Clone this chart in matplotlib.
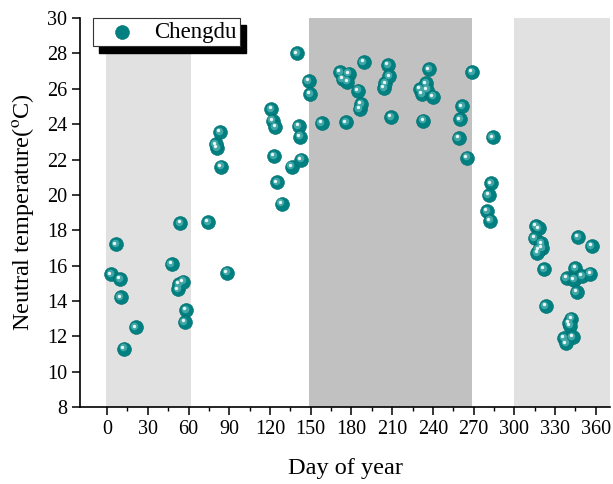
import matplotlib
matplotlib.use("Agg")
import matplotlib.pyplot as plt
from matplotlib.patches import Rectangle
from matplotlib.transforms import offset_copy

plt.rcParams["font.family"] = ["Liberation Serif", "DejaVu Serif"]
plt.rcParams["mathtext.fontset"] = "stix"

# Chengdu neutral temperature by day of year
day = [3, 6.5, 9.5, 10, 12.5, 21, 47.5, 54, 52.3, 53, 56, 58, 57, 74.5, 88.5,
       84, 81, 80, 83,
       121, 122, 124, 123, 125, 128.5, 136, 140, 141, 142, 143, 148.5, 149.5, 158,
       171.5, 178, 173.5, 177, 176, 185, 186, 187, 189, 204, 205, 207, 208, 209,
       230.5, 232, 233, 235, 235.5, 237, 240,
       269, 261.5, 260, 259, 265, 284, 283, 281, 280, 282,
       316, 318, 315, 320, 320.5, 318, 317, 322, 323, 347, 357, 345, 338.5, 344,
       350, 356, 346, 342, 340.5, 341, 336.5, 343, 338]
temp = [15.5, 17.2, 15.25, 14.2, 11.3, 12.5, 16.1, 18.4, 14.65, 14.95, 15.1, 13.5,
        12.8, 18.45, 15.6, 21.6, 22.65, 22.85, 23.55,
        24.85, 24.2, 23.85, 22.2, 20.7, 19.5, 21.6, 28.0, 23.9, 23.3, 22.0, 26.45,
        25.7, 24.05,
        26.95, 26.85, 26.55, 26.4, 24.1, 25.9, 24.85, 25.15, 27.5, 26.05, 26.3,
        27.35, 26.7, 24.4,
        26.0, 25.7, 24.2, 26.3, 25.95, 27.1, 25.55,
        26.95, 25.0, 24.27, 23.2, 22.1, 23.25, 20.65, 20.0, 19.1, 18.55,
        18.25, 18.1, 17.55, 17.25, 17.0, 16.9, 16.7, 15.8, 13.7, 17.6, 17.1, 15.85,
        15.3, 15.2, 15.4, 15.55, 14.5, 13.0, 12.75, 12.6, 11.9, 11.95, 11.6]

# shaded seasons (start, end, colour)
bands = [(-1, 62, "#e1e1e1"), (149, 269, "#c1c1c1"), (300, 372, "#e1e1e1")]

fig = plt.figure(figsize=(6.13, 4.84), dpi=100)
ax = fig.add_axes([0.1305, 0.159, 0.8646, 0.8037])

for x0, x1, c in bands:
    ax.axvspan(x0, x1, color=c, lw=0, zorder=0)

teal = "#008080"
pts = ax.scatter(day, temp, s=100, color=teal, edgecolors="#006b6b",
                 linewidths=0.4, zorder=3, label="Chengdu")
# soft highlight to mimic the shaded spheres
glow = offset_copy(ax.transData, fig=fig, x=-0.9, y=0.9, units="points")
ax.scatter(day, temp, s=30, color="#40a6a6", lw=0, transform=glow, zorder=4)
hl = offset_copy(ax.transData, fig=fig, x=-1.3, y=1.3, units="points")
ax.scatter(day, temp, s=6, color="white", alpha=0.9, lw=0,
           transform=hl, zorder=5)

ax.set_xlim(-20, 370.5)
ax.set_ylim(8, 30)
ax.set_xticks(range(0, 361, 30))
ax.set_xticks(range(15, 361, 30), minor=True)
ax.set_yticks(range(8, 31, 2))
ax.tick_params(axis="both", which="major", direction="out", length=5.5,
               width=1.1, labelsize=14.5)
ax.tick_params(axis="x", which="minor", direction="out", length=3, width=1)
ax.spines["top"].set_visible(False)
ax.spines["right"].set_visible(False)
for s in ("left", "bottom"):
    ax.spines[s].set_linewidth(1.2)

ax.set_xlabel("Day of year", fontsize=17.5, labelpad=14)
ax.set_ylabel(r"Neutral temperature($^{\rm o}$C)", fontsize=17.5, labelpad=8)

# legend box with hard black shadow
ax.add_patch(Rectangle((0.0358, 0.911), 0.277, 0.071, transform=ax.transAxes,
                       facecolor="black", edgecolor="black", zorder=6,
                       clip_on=False))
ax.add_patch(Rectangle((0.0245, 0.928), 0.277, 0.071, transform=ax.transAxes,
                       facecolor="white", edgecolor="#333333", lw=0.8, zorder=7,
                       clip_on=False))
leg = ax.legend(handles=[pts], loc="center", bbox_to_anchor=(0.175, 0.9635),
                frameon=False, fontsize=16.5, handletextpad=0.8,
                handlelength=1.2, borderpad=0.1)
leg.set_zorder(8)

fig.savefig("out.png", dpi=100)
